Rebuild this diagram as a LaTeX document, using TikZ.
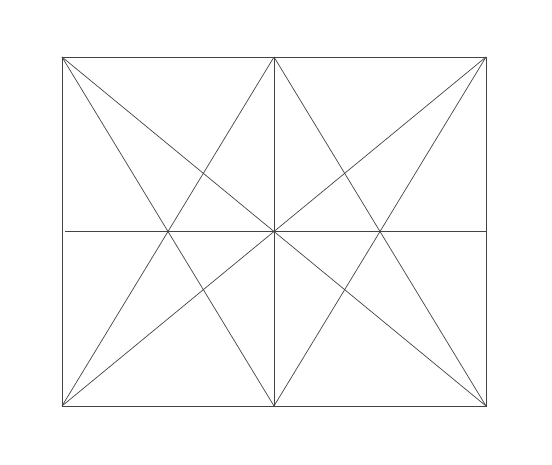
\documentclass[tikz,border=0pt]{standalone}
\usepackage{tikz}
\usetikzlibrary{calc}
\definecolor{linegray}{RGB}{68,68,68}

\begin{document}
\begin{tikzpicture}[x=0.025cm,y=-0.025cm,line width=0.5pt]
								\useasboundingbox (0,0) rectangle (552,465);
								\coordinate (TL) at (62,57);
								\coordinate (TR) at (486,57);
								\coordinate (BL) at (62,406);
								\coordinate (BR) at (486,406);
								\coordinate (TM) at ($(TL)!0.5!(TR)$);
								\coordinate (BM) at ($(BL)!0.5!(BR)$);
								\coordinate (LM) at ($(TL)!0.5!(BL)$);
								\coordinate (RM) at ($(TR)!0.5!(BR)$);

								\draw[linegray] (TL) rectangle (BR);
								\draw[linegray] (TM) -- (BM);
								\draw[linegray] ($(LM)+(3,0)$) -- (RM);

								\draw[linegray] (TL) -- (BR);
								\draw[linegray] (TR) -- (BL);

								\draw[linegray] (TM) -- (BL);
								\draw[linegray] (TM) -- (BR);
								\draw[linegray] (BM) -- (TL);
								\draw[linegray] (BM) -- (TR);
							\end{tikzpicture}
\end{document}
